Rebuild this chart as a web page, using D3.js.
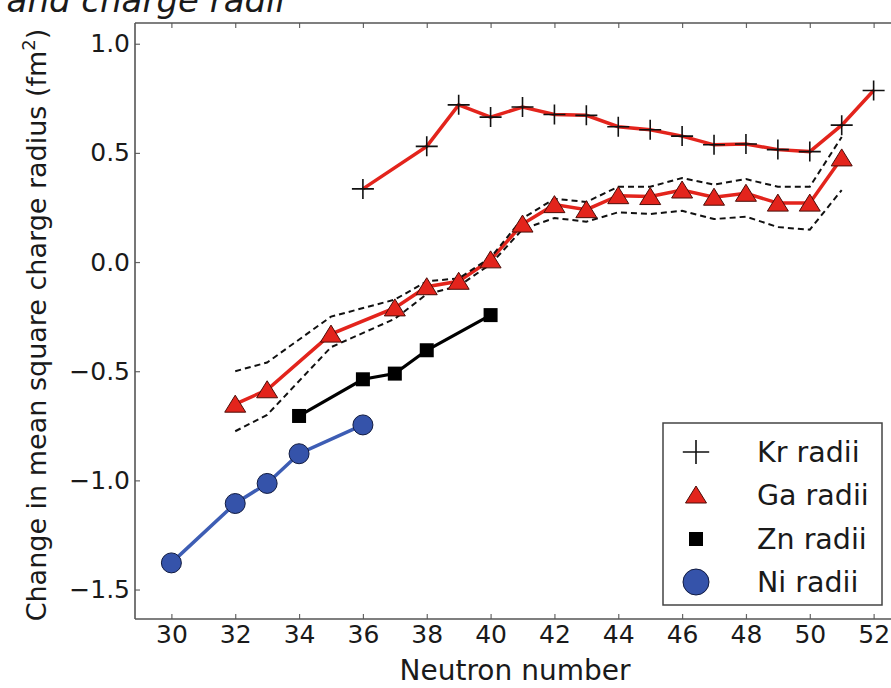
<!DOCTYPE html>
<html><head><meta charset="utf-8">
<script src="https://cdn.jsdelivr.net/npm/d3@7"></script>
<style>body{margin:0;background:#fff}svg{display:block}text{font-family:"DejaVu Sans",sans-serif;fill:#1a1a1a}</style>
</head><body>
<script>
// ---- data ----
const krN = [36,38,39,40,41,42,43,44,45,46,47,48,49,50,51,52];
const krV = [0.335,0.53,0.72,0.664,0.71,0.676,0.672,0.62,0.606,0.577,0.537,0.541,0.515,0.506,0.627,0.786];
const gaN = [32,33,35,37,38,39,40,41,42,43,44,45,46,47,48,49,50,51];
const gaV = [-0.651,-0.585,-0.33,-0.21,-0.113,-0.088,0.01,0.174,0.263,0.24,0.304,0.30,0.33,0.297,0.315,0.27,0.27,0.477];
const gaUpper = [-0.50,-0.46,-0.25,-0.172,-0.088,-0.075,0.02,0.20,0.29,0.275,0.345,0.345,0.385,0.355,0.38,0.345,0.345,0.573];
const gaLower = [-0.775,-0.70,-0.39,-0.26,-0.147,-0.11,-0.01,0.15,0.202,0.185,0.228,0.22,0.235,0.197,0.208,0.16,0.148,0.33];
const znN = [34,36,37,38,40];
const znV = [-0.705,-0.537,-0.511,-0.404,-0.243];
const niN = [30,32,33,34,36];
const niV = [-1.378,-1.106,-1.014,-0.878,-0.746];
const xTicks = [30,32,34,36,38,40,42,44,46,48,50,52];
const yTicks = [-1.5,-1.0,-0.5,0.0,0.5,1.0];
const legendLabels = ["Kr radii","Ga radii","Zn radii","Ni radii"];

const W = 891, H = 688;
const RED = "#e3241c", BLUE = "#3d5db4", DARK = "#1a1a1a";
const svg = d3.select("body").append("svg").attr("width", W).attr("height", H);

const pL = 135, pT = 23, pB = 619;
const x = d3.scaleLinear().domain([28.86, 53.5]).range([pL, pL + 24.64 * 31.92]);
const y = d3.scaleLinear().domain([-1.635, 1.095]).range([pB, pT]);

// title fragment (cut off at top, as in the source figure)
svg.append("text").attr("x", 285).attr("y", 12).attr("text-anchor", "end")
  .attr("font-size", 34).attr("font-style", "italic").text("and charge radii");

// axes
const fmt = d3.format(".1f");
const gx = svg.append("g").attr("transform", `translate(0,${pB})`)
  .call(d3.axisBottom(x).tickValues(xTicks).tickSizeInner(-5).tickSizeOuter(0).tickPadding(6).tickFormat(d3.format("d")));
const gy = svg.append("g").attr("transform", `translate(${pL},0)`)
  .call(d3.axisLeft(y).tickValues(yTicks).tickSizeInner(-5).tickSizeOuter(0).tickPadding(5).tickFormat(fmt));
const gt = svg.append("g").attr("transform", `translate(0,${pT})`)
  .call(d3.axisTop(x).tickValues(xTicks).tickSizeInner(-5).tickSizeOuter(0).tickFormat(""));
[gx, gy, gt].forEach(g => {
  g.select(".domain").remove();
  g.selectAll(".tick line").attr("stroke", "#666").attr("stroke-width", 1.2);
  g.selectAll(".tick text").attr("font-size", 25).attr("fill", DARK).style("font-family", '"DejaVu Sans",sans-serif');
});
// spines
svg.append("line").attr("x1", pL).attr("x2", W).attr("y1", pT).attr("y2", pT).attr("stroke", "#555").attr("stroke-width", 1.6);
svg.append("line").attr("x1", pL).attr("x2", W).attr("y1", pB).attr("y2", pB).attr("stroke", "#555").attr("stroke-width", 1.6);
svg.append("line").attr("x1", pL).attr("x2", pL).attr("y1", pT).attr("y2", pB).attr("stroke", "#555").attr("stroke-width", 1.6);

// axis labels
svg.append("text").attr("x", 515).attr("y", 680).attr("text-anchor", "middle").attr("font-size", 28).text("Neutron number");
svg.append("text").attr("transform", `translate(46,${(pT + pB) / 2 + 4}) rotate(-90)`).attr("text-anchor", "middle")
  .attr("font-size", 27).html('Change in mean square charge radius (fm<tspan dy="-11" font-size="18">2</tspan><tspan dy="11">)</tspan>');

const line = d3.line().x(d => x(d[0])).y(d => y(d[1]));
const zip = (a, b) => a.map((v, i) => [v, b[i]]);

// lines
svg.append("path").datum(zip(niN, niV)).attr("d", line).attr("fill", "none").attr("stroke", BLUE).attr("stroke-width", 3.5);
svg.append("path").datum(zip(znN, znV)).attr("d", line).attr("fill", "none").attr("stroke", "#000").attr("stroke-width", 3.2);
svg.append("path").datum(zip(gaN, gaV)).attr("d", line).attr("fill", "none").attr("stroke", RED).attr("stroke-width", 3.5);
svg.append("path").datum(zip(krN, krV)).attr("d", line).attr("fill", "none").attr("stroke", RED).attr("stroke-width", 3.5);
[gaUpper, gaLower].forEach(b => {
  svg.append("path").datum(zip(gaN, b)).attr("d", line).attr("fill", "none").attr("stroke", "#111")
    .attr("stroke-width", 2).attr("stroke-dasharray", "6,4");
});

// marker shapes
const plus = (g, cx, cy, s = 1) => g.append("path").attr("d", `M${cx-11*s},${cy}H${cx+11*s}M${cx},${cy-10*s}V${cy+10*s}`).attr("stroke", "#111").attr("stroke-width", 1.6).attr("fill", "none");
const tri = (g, cx, cy) => g.append("path").attr("d", `M${cx},${cy-9}L${cx+10.5},${cy+8}L${cx-10.5},${cy+8}Z`).attr("fill", RED).attr("stroke", "#4a0d08").attr("stroke-width", 1);
const sq = (g, cx, cy) => g.append("rect").attr("x", cx-7).attr("y", cy-7).attr("width", 14).attr("height", 14).attr("fill", "#000");
const circ = (g, cx, cy, s = 1) => g.append("circle").attr("cx", cx).attr("cy", cy).attr("r", 10*s).attr("fill", "#3553aa").attr("stroke", "#101a40").attr("stroke-width", 1);

const mg = svg.append("g");
niN.forEach((n, i) => circ(mg, x(n), y(niV[i])));
znN.forEach((n, i) => sq(mg, x(n), y(znV[i])));
gaN.forEach((n, i) => tri(mg, x(n), y(gaV[i])));
krN.forEach((n, i) => plus(mg, x(n), y(krV[i])));

// legend
const lg = svg.append("g");
lg.append("rect").attr("x", 663).attr("y", 423).attr("width", 219).attr("height", 182).attr("fill", "#fff").attr("stroke", "#444").attr("stroke-width", 1.5);
const rowsY = [452, 495, 539, 582];
legendLabels.forEach((t, i) => {
  if (i === 0) plus(lg, 696, rowsY[i], 1.2);
  else if (i === 1) tri(lg, 696, rowsY[i]);
  else if (i === 2) sq(lg, 696, rowsY[i]);
  else circ(lg, 696, rowsY[i], 1.3);
  lg.append("text").attr("x", 757).attr("y", rowsY[i] + 10).attr("font-size", 28.5).text(t);
});
</script>
</body></html>
